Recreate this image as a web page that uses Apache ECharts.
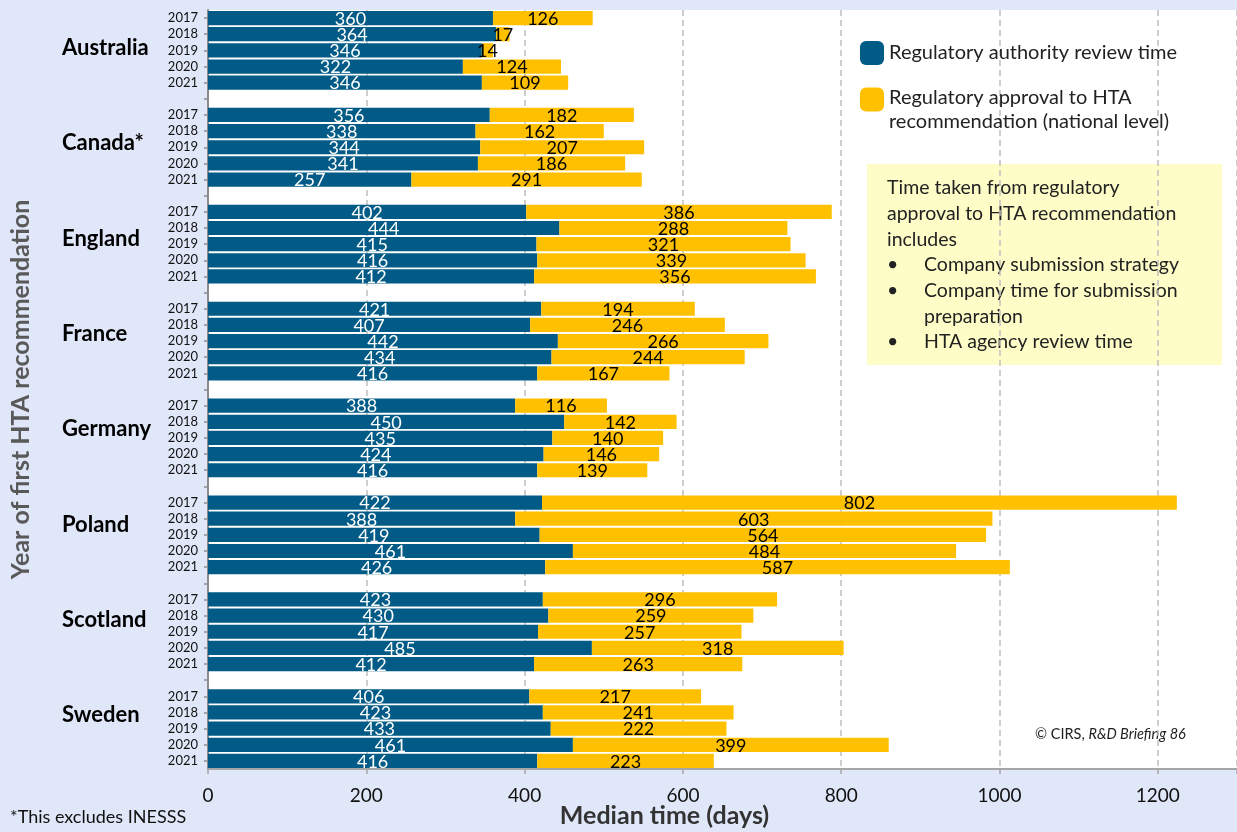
<!DOCTYPE html>
<html>
<head>
<meta charset="utf-8">
<script src="https://cdn.jsdelivr.net/npm/echarts@6/dist/echarts.min.js"></script>
<style>
html,body{margin:0;padding:0;background:#e0e7f9;}
#chart{width:1237px;height:832px;}
</style>
</head>
<body>
<div id="chart"></div>
<script>
const countries = ['Australia', 'Canada*', 'England', 'France', 'Germany', 'Poland', 'Scotland', 'Sweden'];
const years = ['2017', '2018', '2019', '2020', '2021'];

const australiaReview = [360, 364, 346, 322, 346];
const australiaHta    = [126, 17, 14, 124, 109];
const canadaReview    = [356, 338, 344, 341, 257];
const canadaHta       = [182, 162, 207, 186, 291];
const englandReview   = [402, 444, 415, 416, 412];
const englandHta      = [386, 288, 321, 339, 356];
const franceReview    = [421, 407, 442, 434, 416];
const franceHta       = [194, 246, 266, 244, 167];
const germanyReview   = [388, 450, 435, 424, 416];
const germanyHta      = [116, 142, 140, 146, 139];
const polandReview    = [422, 388, 419, 461, 426];
const polandHta       = [802, 603, 564, 484, 587];
const scotlandReview  = [423, 430, 417, 485, 412];
const scotlandHta     = [296, 259, 257, 318, 263];
const swedenReview    = [406, 423, 433, 461, 416];
const swedenHta       = [217, 241, 222, 399, 223];

const xTicks = [0, 200, 400, 600, 800, 1000, 1200];

const seriesNames = ['Regulatory authority review time', 'Regulatory approval to HTA recommendation (national level)'];

const reviewByCountry = [australiaReview, canadaReview, englandReview, franceReview, germanyReview, polandReview, scotlandReview, swedenReview];
const htaByCountry = [australiaHta, canadaHta, englandHta, franceHta, germanyHta, polandHta, scotlandHta, swedenHta];

// Build category axis (with a blank spacer row between countries)
const categories = [];
const reviewData = [];
const htaData = [];
countries.forEach((c, ci) => {
  years.forEach((y, yi) => {
    categories.push(ci + '|' + c + '|' + y);
    reviewData.push(reviewByCountry[ci][yi]);
    htaData.push(htaByCountry[ci][yi]);
  });
  if (ci < countries.length - 1) {
    categories.push('gap' + ci);
    reviewData.push('-');
    htaData.push('-');
  }
});

const FONT = 'Lato, "Open Sans", sans-serif';
const BLUE = '#015b86';
const YELLOW = '#ffc000';

const chart = echarts.init(document.getElementById('chart'));
chart.setOption({
  backgroundColor: '#e0e7f9',
  textStyle: { fontFamily: FONT },
  animation: false,
  grid: [
    {
      left: 208, right: 0, top: 10, bottom: 63,
      containLabel: false, outerBoundsMode: 'none',
      show: true, backgroundColor: '#ffffff', borderWidth: 0
    },
    {
      left: 208, right: 0, top: 0, bottom: 69,
      containLabel: false, outerBoundsMode: 'none', show: false
    }
  ],
  xAxis: [
    {
      type: 'value',
      gridIndex: 0,
      min: 0, max: 1300, interval: 200,
      axisLine: { show: true, lineStyle: { color: '#a6a6a6', width: 2 } },
      axisTick: { show: true, length: 5, lineStyle: { color: '#a6a6a6', width: 1.5 } },
      axisLabel: {
        fontSize: 19, color: '#111', margin: 17, fontFamily: FONT,
        formatter: v => xTicks.indexOf(v) >= 0 ? String(v) : ''
      },
      splitLine: { show: true, lineStyle: { color: '#bfbfbf', type: [6, 4], width: 1.5 } },
      name: 'Median time (days)',
      nameLocation: 'middle',
      nameGap: 34,
      nameMoveOverlap: false,
      nameTextStyle: { fontSize: 25, fontWeight: 'bold', color: '#333', fontFamily: FONT, padding: [0, 116, 0, 0] }
    },
    {
      type: 'value', gridIndex: 1, show: false, min: 0, max: 1
    }
  ],
  yAxis: [
    {
      type: 'category',
      gridIndex: 0,
      inverse: true,
      data: categories,
      axisLine: { show: true, lineStyle: { color: '#8c8c8c', width: 2 } },
      axisTick: { show: true, alignWithLabel: true, length: 4, lineStyle: { color: '#8c8c8c', width: 1.5 } },
      axisLabel: {
        interval: 0,
        margin: 10,
        fontSize: 13,
        color: '#111',
        fontFamily: FONT,
        formatter: function (v) {
          if (v.indexOf('gap') === 0) return '';
          return v.split('|')[2];
        }
      },
      name: 'Year of first HTA recommendation',
      nameLocation: 'middle',
      nameGap: 175,
      nameRotate: 90,
      nameMoveOverlap: false,
      nameTextStyle: { fontSize: 25, fontWeight: 'bold', color: '#595959', fontFamily: FONT }
    },
    {
      type: 'category',
      gridIndex: 1,
      inverse: true,
      data: countries,
      axisLine: { show: false },
      axisTick: { show: false },
      splitLine: { show: false },
      axisLabel: {
        interval: 0,
        align: 'left',
        margin: 146,
        fontSize: 22,
        fontWeight: 'bold',
        color: '#000',
        fontFamily: FONT
      }
    }
  ],
  legend: [
    {
      orient: 'vertical', left: 860, top: 41, padding: 0,
      itemWidth: 24, itemHeight: 24, icon: 'roundRect',
      data: [{ name: seriesNames[0] }],
      textStyle: { fontSize: 20, color: '#222', fontFamily: FONT },
      selectedMode: false
    },
    {
      orient: 'vertical', left: 860, top: 75, padding: 0,
      itemWidth: 24, itemHeight: 24, icon: 'roundRect',
      data: [{ name: seriesNames[1] }],
      formatter: function () { return '{e| }\n{a|Regulatory approval to HTA}\n{a|recommendation (national level)}'; },
      textStyle: {
        fontSize: 20, color: '#222', fontFamily: FONT,
        rich: {
          e: { fontSize: 1, lineHeight: 20 },
          a: { fontSize: 20, lineHeight: 24, color: '#222', fontFamily: FONT }
        }
      },
      selectedMode: false
    }
  ],
  series: [
    {
      name: seriesNames[0],
      type: 'bar',
      stack: 'total',
      data: reviewData,
      barCategoryGap: '12%',
      itemStyle: { color: BLUE },
      label: { show: true, position: 'inside', offset: [0, 1], color: '#fff', fontSize: 18, fontFamily: FONT }
    },
    {
      name: seriesNames[1],
      type: 'bar',
      stack: 'total',
      data: htaData,
      barCategoryGap: '12%',
      itemStyle: { color: YELLOW },
      label: { show: true, position: 'inside', offset: [0, 1], color: '#000', fontSize: 18, fontFamily: FONT }
    }
  ],
  graphic: [
    {
      type: 'group', left: 867, top: 164,
      children: [
        { type: 'rect', shape: { x: 0, y: 0, width: 355, height: 201 }, style: { fill: '#fefdc8' } },
        { type: 'text', x: 20, y: 11, style: { text: 'Time taken from regulatory\napproval to HTA recommendation\nincludes', fontSize: 19.5, lineHeight: 25.7, fill: '#222', fontFamily: FONT } },
        { type: 'text', x: 20, y: 88, style: { text: '•\n•\n\n•', fontSize: 19.5, lineHeight: 25.7, fill: '#222', fontFamily: FONT } },
        { type: 'text', x: 57, y: 88, style: { text: 'Company submission strategy\nCompany time for submission\npreparation\nHTA agency review time', fontSize: 19.5, lineHeight: 25.7, fill: '#222', fontFamily: FONT } }
      ]
    },
    {
      type: 'text', left: 1035, top: 727,
      style: {
        text: '© CIRS, {i|R&D Briefing 86}',
        fontSize: 14.5, fill: '#222', fontFamily: FONT,
        rich: { i: { fontStyle: 'italic', fontSize: 14.5, fill: '#222', fontFamily: FONT } }
      }
    },
    {
      type: 'text', left: 10, top: 808,
      style: { text: '*This excludes INESSS', fontSize: 18, fill: '#111', fontFamily: FONT }
    }
  ]
});
</script>
</body>
</html>
